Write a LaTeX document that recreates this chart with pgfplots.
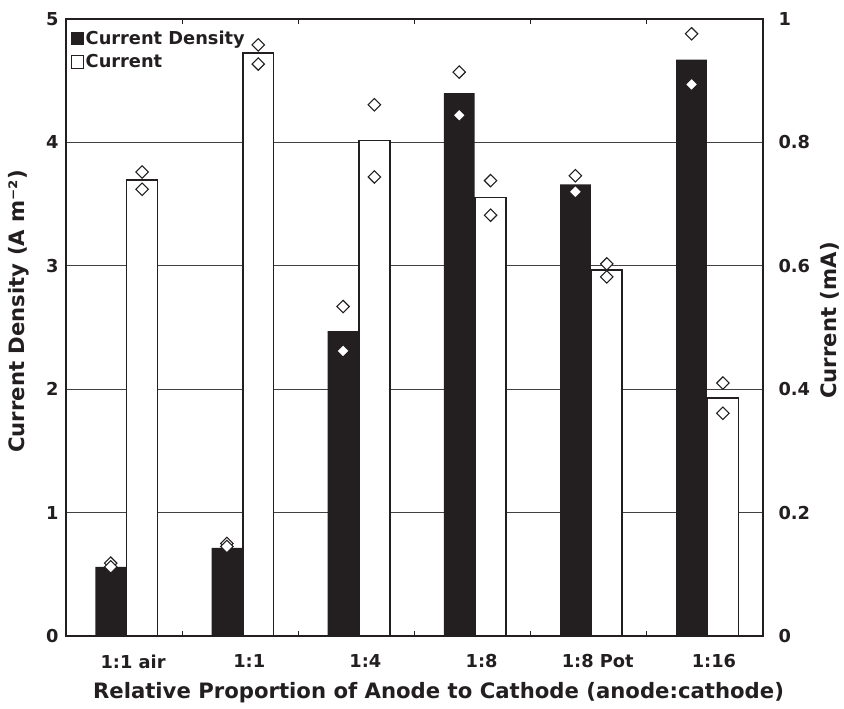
\documentclass[border=0pt]{standalone}
\usepackage{fontspec}
\setmainfont{DejaVu Sans}[BoldFont={DejaVu Sans Bold}]
\usepackage{pgfplots}
\usepackage{pgfplotstable}
\pgfplotsset{compat=1.18}
\definecolor{ink}{HTML}{231F20}
\pgfplotstableread{
x cd cdA cdB cur curA curB
0 0.56 0.59 0.56 0.739 0.752 0.724
1 0.715 0.75 0.725 0.945 0.958 0.927
2 2.47 2.67 2.31 0.803 0.861 0.744
3 4.40 4.57 4.22 0.711 0.738 0.682
4 3.66 3.73 3.60 0.593 0.603 0.582
5 4.67 4.88 4.47 0.386 0.410 0.361
}\data
\begin{document}
\begin{tikzpicture}
\pgfplotsset{
  every axis/.append style={
    scale only axis, width=697pt, height=617pt,
    xmin=-0.5, xmax=5.5,
    /pgf/number format/assume math mode=true,
    tick label style={font=\fontsize{17.8}{19}\selectfont\bfseries, color=ink},
    label style={font=\fontsize{21.2}{24}\selectfont\bfseries, color=ink},
    axis line style={line width=2.5pt, color=ink},
  }
}
\begin{axis}[
  name=ax,
  ymin=0, ymax=5,
  ytick={0,1,2,3,4,5},
  yticklabels={0,1,2,3,4,5},
  yticklabel style={xshift=-4pt},
  major tick length=0pt,
  ymajorgrids,
  grid style={line width=1.1pt, color=ink!85},
  xtick={0,1,2,3,4,5},
  xticklabels={1:1 air,1:1,1:4,1:8,1:8 Pot,1:16},
  xticklabel style={xshift=9pt, yshift=-15pt},
  minor xtick={0.5,1.5,2.5,3.5,4.5},
  minor tick length=5pt,
  tick align=inside,
  minor tick style={line width=1.2pt, color=ink},
  ylabel={Current Density (A m⁻²)},
  ylabel style={at={(axis description cs:0,0.5)}, anchor=center, yshift=47pt, xshift=16pt},
  xlabel={Relative Proportion of Anode to Cathode (anode:cathode)},
  xlabel style={at={(axis description cs:0.5,0)}, anchor=center, yshift=-57pt, xshift=24pt},
  legend style={at={(axis description cs:0.005,0.985)}, anchor=north west, draw=none, fill=none,
    font=\fontsize{17.8}{19}\selectfont\bfseries, text=ink, row sep=4pt,
    inner sep=1pt},
  legend cell align=left,
]
\addplot[ybar, bar width=0.265, bar shift=0pt, fill=ink, draw=none,
  legend image code/.code={\fill[ink] (0pt,-6.5pt) rectangle (13pt,6.5pt);}]
  table[x expr=\thisrow{x}-0.115, y=cd] {\data};
\addlegendentry{Current Density}
\addlegendimage{legend image code/.code={\draw[ink, line width=0.8pt, fill=white] (0.4pt,-6.1pt) rectangle (12.6pt,6.1pt);}}
\addlegendentry{Current}
\addplot[only marks, mark=square*, mark size=4.4pt, mark options={rotate=45, fill=white, draw=ink, line width=1.1pt}]
  table[x expr=\thisrow{x}-0.115, y=cdA] {\data};
\addplot[only marks, mark=square*, mark size=4.4pt, mark options={rotate=45, fill=white, draw=ink, line width=1.1pt}]
  table[x expr=\thisrow{x}-0.115, y=cdB] {\data};
\end{axis}
\begin{axis}[
  ymin=0, ymax=1,
  axis x line=none,
  axis y line*=right,
  ytick={0,0.2,0.4,0.6,0.8,1},
  yticklabels={0,0.2,0.4,0.6,0.8,1},
  major tick length=0pt,
  ylabel={Current (mA)},
  ylabel style={at={(axis description cs:1,0.5)}, anchor=center, yshift=-67pt, xshift=7pt},
  yticklabel style={xshift=12pt},
]
\addplot[ybar, bar width=0.265, bar shift=0pt, fill=white, draw=ink, line width=1.5pt]
  table[x expr=\thisrow{x}+0.155, y=cur] {\data};
\addplot[only marks, mark=square*, mark size=4.4pt, mark options={rotate=45, fill=white, draw=ink, line width=1.1pt}]
  table[x expr=\thisrow{x}+0.155, y=curA] {\data};
\addplot[only marks, mark=square*, mark size=4.4pt, mark options={rotate=45, fill=white, draw=ink, line width=1.1pt}]
  table[x expr=\thisrow{x}+0.155, y=curB] {\data};
\end{axis}
\pgfresetboundingbox
\path ([xshift=-66pt,yshift=-72pt]ax.south west) rectangle ([xshift=81pt,yshift=19pt]ax.north east);
\end{tikzpicture}
\end{document}
